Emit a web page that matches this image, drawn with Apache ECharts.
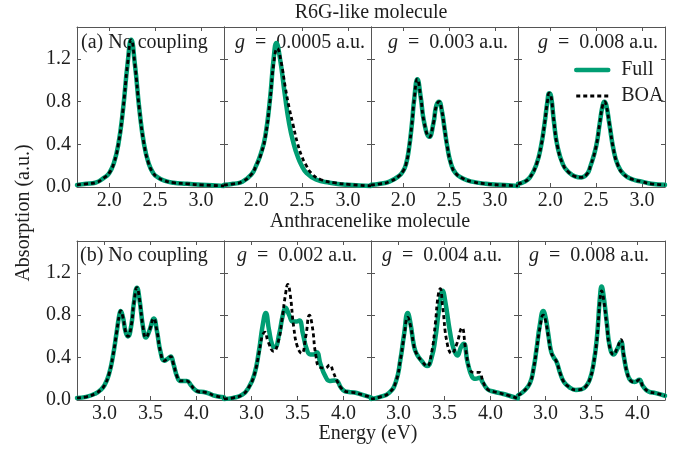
<!DOCTYPE html>
<html><head><meta charset="utf-8">
<script src="https://cdn.jsdelivr.net/npm/echarts@6/dist/echarts.min.js"></script>
<style>html,body{margin:0;padding:0;background:#fff}#c{width:683px;height:450px}</style>
</head><body><div id="c"></div>
<script>
// ---------- Data ----------
// Row (a): R6G-like molecule
const aTicks = [2.0, 2.5, 3.0];
const bTicks = [3.0, 3.5, 4.0];
const yTicks = [0, 0.4, 0.8, 1.2];

const aNcE = [1.65,1.75,1.85,1.95,2.0,2.05,2.1,2.15,2.2,2.24,2.28,2.33,2.38,2.43,2.48,2.53,2.6,2.7,2.85,3.0,3.25];
const aNcFull = [0.02,0.03,0.04,0.09,0.13,0.22,0.4,0.72,1.15,1.38,1.15,0.72,0.4,0.22,0.13,0.09,0.06,0.04,0.03,0.02,0.01];
const aNcBoa  = [0.02,0.03,0.04,0.09,0.13,0.22,0.4,0.72,1.15,1.38,1.15,0.72,0.4,0.22,0.13,0.09,0.06,0.04,0.03,0.02,0.01];

const aG1E = [1.65,1.75,1.85,1.95,2.0,2.05,2.1,2.15,2.19,2.22,2.26,2.31,2.36,2.41,2.45,2.49,2.55,2.65,2.8,3.0,3.25];
const aG1Full = [0.02,0.03,0.05,0.12,0.2,0.31,0.48,0.82,1.2,1.35,1.2,0.88,0.59,0.4,0.29,0.21,0.13,0.07,0.04,0.02,0.01];
const aG1BoaE = [1.65,1.75,1.85,1.95,2.0,2.05,2.1,2.15,2.19,2.23,2.27,2.32,2.36,2.4,2.45,2.5,2.54,2.6,2.7,2.85,3.0,3.25];
const aG1Boa  = [0.02,0.03,0.05,0.12,0.2,0.3,0.47,0.8,1.15,1.3,1.18,0.92,0.74,0.59,0.41,0.28,0.21,0.13,0.07,0.04,0.025,0.01];

const aG2E = [1.65,1.75,1.85,1.95,2.0,2.03,2.06,2.095,2.12,2.155,2.19,2.23,2.285,2.33,2.36,2.39,2.42,2.45,2.48,2.52,2.57,2.65,2.75,2.9,3.05,3.25];
const aG2Full = [0.02,0.03,0.05,0.1,0.15,0.21,0.34,0.59,0.82,1.01,0.85,0.6,0.47,0.6,0.76,0.8,0.72,0.55,0.38,0.22,0.13,0.08,0.05,0.03,0.02,0.01];
const aG2Boa  = [0.02,0.03,0.05,0.1,0.15,0.21,0.34,0.59,0.82,1.01,0.85,0.6,0.47,0.6,0.76,0.8,0.72,0.55,0.38,0.22,0.13,0.08,0.05,0.03,0.02,0.01];

const aG3E = [1.65,1.72,1.78,1.85,1.9,1.94,1.97,1.99,2.01,2.04,2.08,2.14,2.2,2.27,2.34,2.4,2.44,2.5,2.54,2.57,2.59,2.61,2.645,2.69,2.735,2.8,2.9,3.0,3.1,3.25];
const aG3Full = [0.03,0.05,0.09,0.21,0.38,0.6,0.8,0.88,0.85,0.62,0.38,0.21,0.14,0.1,0.09,0.12,0.2,0.38,0.6,0.76,0.8,0.77,0.59,0.35,0.21,0.12,0.07,0.05,0.03,0.02];
const aG3Boa  = [0.03,0.05,0.09,0.21,0.38,0.6,0.8,0.88,0.85,0.62,0.38,0.21,0.14,0.1,0.09,0.12,0.2,0.38,0.6,0.76,0.8,0.77,0.59,0.35,0.21,0.12,0.07,0.05,0.03,0.02];

// Row (b): Anthracenelike molecule
const bNcE = [2.7,2.8,2.9,2.95,3.0,3.05,3.09,3.13,3.16,3.175,3.2,3.23,3.255,3.29,3.32,3.353,3.38,3.42,3.45,3.49,3.535,3.57,3.61,3.65,3.69,3.72,3.75,3.79,3.825,3.86,3.895,3.94,3.98,4.02,4.08,4.14,4.2,4.3];
const bNcFull = [0.02,0.03,0.06,0.09,0.14,0.25,0.41,0.63,0.8,0.84,0.78,0.64,0.6,0.7,0.92,1.06,0.95,0.68,0.59,0.66,0.77,0.65,0.45,0.37,0.39,0.41,0.34,0.22,0.18,0.18,0.18,0.14,0.1,0.08,0.075,0.06,0.04,0.025];
const bNcBoa  = [0.02,0.03,0.06,0.09,0.14,0.25,0.41,0.63,0.8,0.84,0.78,0.64,0.6,0.7,0.92,1.06,0.95,0.68,0.59,0.66,0.77,0.65,0.45,0.37,0.39,0.41,0.34,0.22,0.18,0.18,0.18,0.14,0.1,0.08,0.075,0.06,0.04,0.025];

const bG1E = [2.7,2.8,2.9,2.97,3.03,3.08,3.12,3.155,3.19,3.225,3.255,3.3,3.34,3.37,3.41,3.45,3.49,3.52,3.56,3.6,3.64,3.68,3.71,3.75,3.8,3.85,3.9,3.93,3.97,4.01,4.06,4.12,4.2,4.3];
const bG1Full = [0.01,0.02,0.05,0.12,0.24,0.46,0.7,0.82,0.66,0.52,0.5,0.62,0.8,0.87,0.8,0.74,0.74,0.75,0.62,0.48,0.43,0.43,0.45,0.34,0.23,0.18,0.185,0.18,0.12,0.085,0.075,0.07,0.05,0.025];
const bG1BoaE = [2.7,2.8,2.9,2.97,3.03,3.08,3.115,3.145,3.18,3.24,3.29,3.33,3.37,3.395,3.42,3.46,3.5,3.545,3.59,3.63,3.66,3.7,3.74,3.8,3.85,3.89,3.93,3.97,4.01,4.06,4.12,4.2,4.3];
const bG1Boa  = [0.01,0.02,0.05,0.12,0.24,0.44,0.6,0.64,0.55,0.46,0.55,0.75,1.0,1.09,1.0,0.68,0.5,0.44,0.6,0.8,0.7,0.42,0.31,0.3,0.33,0.26,0.18,0.12,0.085,0.075,0.07,0.05,0.025];

const bG2E = [2.7,2.8,2.9,2.97,3.02,3.06,3.1,3.13,3.17,3.2,3.25,3.31,3.36,3.4,3.44,3.48,3.51,3.56,3.6,3.64,3.68,3.71,3.75,3.8,3.84,3.88,3.92,3.97,4.03,4.1,4.18,4.3];
const bG2Full = [0.01,0.03,0.07,0.17,0.38,0.62,0.82,0.72,0.5,0.43,0.37,0.32,0.4,0.58,0.85,1.03,0.92,0.64,0.48,0.42,0.5,0.53,0.36,0.22,0.2,0.21,0.16,0.1,0.08,0.065,0.047,0.015];
const bG2BoaE = [2.7,2.8,2.9,2.97,3.02,3.06,3.1,3.13,3.17,3.2,3.25,3.31,3.36,3.4,3.43,3.453,3.48,3.53,3.58,3.63,3.69,3.73,3.78,3.83,3.88,3.92,3.97,4.03,4.1,4.18,4.3];
const bG2Boa  = [0.01,0.03,0.07,0.17,0.38,0.6,0.78,0.7,0.5,0.43,0.37,0.32,0.45,0.72,0.98,1.05,0.88,0.53,0.44,0.52,0.68,0.48,0.28,0.26,0.26,0.17,0.1,0.08,0.065,0.047,0.015];

const bG3E = [2.7,2.76,2.83,2.87,2.9,2.94,2.975,3.0,3.03,3.06,3.09,3.12,3.16,3.2,3.26,3.33,3.39,3.44,3.48,3.52,3.56,3.59,3.61,3.635,3.665,3.7,3.74,3.78,3.82,3.85,3.89,3.93,3.97,4.02,4.06,4.12,4.2,4.3];
const bG3Full = [0.045,0.08,0.16,0.3,0.47,0.72,0.84,0.78,0.62,0.46,0.4,0.36,0.25,0.17,0.12,0.095,0.1,0.13,0.19,0.33,0.6,0.95,1.07,0.96,0.74,0.5,0.43,0.48,0.55,0.42,0.25,0.18,0.17,0.19,0.13,0.08,0.065,0.04];
const bG3Boa  = [0.045,0.08,0.16,0.3,0.46,0.69,0.8,0.75,0.6,0.45,0.4,0.36,0.25,0.17,0.12,0.095,0.1,0.13,0.19,0.33,0.58,0.92,1.03,0.93,0.72,0.49,0.43,0.49,0.57,0.43,0.25,0.18,0.17,0.19,0.13,0.08,0.065,0.04];

const panelLabels = ['(a) No coupling','{i|g}{n|\u2002=\u20020.0005 a.u.}','{i|g}{n|\u2002=\u20020.003 a.u.}','{i|g}{n|\u2002=\u20020.008 a.u.}',
                     '(b) No coupling','{i|g}{n|\u2002=\u20020.002 a.u.}','{i|g}{n|\u2002=\u20020.004 a.u.}','{i|g}{n|\u2002=\u20020.008 a.u.}'];
const rowTitles = ['R6G-like molecule','Anthracenelike molecule'];
const xTitle = 'Energy (eV)';
const yTitle = 'Absorption (a.u.)';
const seriesNames = ['Full','BOA'];

// ---------- Build chart ----------
const FONT = 'Liberation Serif';
const TXT = '#1e1e1e';
const GREEN = '#009E73';
const AX = '#555';
const zip = (e, v) => e.map((x, i) => [x, v[i]]);

const panels = [
  {fe:aNcE, f:aNcFull, be:aNcE, b:aNcBoa},
  {fe:aG1E, f:aG1Full, be:aG1BoaE, b:aG1Boa},
  {fe:aG2E, f:aG2Full, be:aG2E, b:aG2Boa},
  {fe:aG3E, f:aG3Full, be:aG3E, b:aG3Boa},
  {fe:bNcE, f:bNcFull, be:bNcE, b:bNcBoa},
  {fe:bG1E, f:bG1Full, be:bG1BoaE, b:bG1Boa},
  {fe:bG2E, f:bG2Full, be:bG2BoaE, b:bG2Boa},
  {fe:bG3E, f:bG3Full, be:bG3E, b:bG3Boa}
];
const rowX = [[1.65, 3.25], [2.7, 4.3]];
const rowTick = [aTicks, bTicks];
const gridTop = [27, 241], gridH = [160, 159];
const colLeft = [77, 224, 371, 518], colW = 147;

const grid = [], xAxis = [], yAxis = [], series = [];
const fmt = v => Number(v).toFixed(1);
panels.forEach((p, i) => {
  const r = Math.floor(i / 4), c = i % 4;
  grid.push({left: colLeft[c], top: gridTop[r], width: colW, height: gridH[r], containLabel: false});
  const common = {type: 'value', gridIndex: i, min: rowX[r][0], max: rowX[r][1],
    splitLine: {show: false}, axisLine: {show: true, onZero: false, lineStyle: {color: AX, width: 1}}};
  xAxis.push(Object.assign({}, common, {position: 'bottom',
    axisTick: {show: true, inside: true, length: 4, customValues: rowTick[r], lineStyle: {color: AX}},
    axisLabel: {show: true, customValues: rowTick[r], formatter: fmt, margin: 4, fontFamily: FONT, fontSize: 20, color: TXT}}));
  xAxis.push(Object.assign({}, common, {position: 'top',
    axisTick: {show: true, inside: true, length: 4, customValues: rowTick[r], lineStyle: {color: AX}},
    axisLabel: {show: false}}));
  const yc = {type: 'value', gridIndex: i, min: 0, max: 1.5, splitLine: {show: false},
    axisLine: {show: true, onZero: false, lineStyle: {color: AX, width: 1}}};
  yAxis.push(Object.assign({}, yc, {position: 'left',
    axisTick: {show: true, inside: true, length: 4, customValues: yTicks, lineStyle: {color: AX}},
    axisLabel: {show: c === 0, customValues: yTicks, formatter: fmt, margin: 6, fontFamily: FONT, fontSize: 20, color: TXT}}));
  yAxis.push(Object.assign({}, yc, {position: 'right',
    axisTick: {show: true, inside: true, length: 4, customValues: yTicks, lineStyle: {color: AX}},
    axisLabel: {show: false}}));
  series.push({name: seriesNames[0], type: 'line', xAxisIndex: 2 * i, yAxisIndex: 2 * i,
    data: zip(p.fe, p.f), symbol: 'none', showSymbol: false, smooth: 0.5,
    lineStyle: {color: GREEN, width: 4.5, join: 'round', cap: 'round'}, itemStyle: {color: GREEN}, z: 2, silent: true});
  series.push({name: seriesNames[1], type: 'line', xAxisIndex: 2 * i, yAxisIndex: 2 * i,
    data: zip(p.be, p.b), symbol: 'none', showSymbol: false, smooth: 0.5,
    lineStyle: {color: '#000', width: 2.8, type: [4, 3]}, itemStyle: {color: '#000'}, z: 3, silent: true});
});

const rich = {i: {fontFamily: FONT, fontSize: 20, fontStyle: 'italic', fill: TXT, color: TXT},
              n: {fontFamily: FONT, fontSize: 20, fill: TXT, color: TXT}};
const labelPos = [
  {x: 81, y: 43, a: 'left'}, {x: 300, y: 43, a: 'center'}, {x: 448, y: 43, a: 'center'}, {x: 598, y: 43, a: 'center'},
  {x: 80, y: 256, a: 'left'}, {x: 297, y: 256, a: 'center'}, {x: 442, y: 256, a: 'center'}, {x: 589, y: 256, a: 'center'}
];
const graphic = [];
panelLabels.forEach((t, i) => {
  graphic.push({type: 'text', x: labelPos[i].x, y: labelPos[i].y, silent: true,
    style: {text: t, font: '20px "Liberation Serif"', fill: TXT, textAlign: labelPos[i].a, textVerticalAlign: 'middle', rich: rich}});
});
graphic.push({type: 'text', x: 371, y: 13, style: {text: rowTitles[0], font: '20px "Liberation Serif"', fill: TXT, textAlign: 'center', textVerticalAlign: 'middle'}});
graphic.push({type: 'text', x: 370, y: 222, style: {text: rowTitles[1], font: '20px "Liberation Serif"', fill: TXT, textAlign: 'center', textVerticalAlign: 'middle'}});
graphic.push({type: 'text', x: 368, y: 434, style: {text: xTitle, font: '20px "Liberation Serif"', fill: TXT, textAlign: 'center', textVerticalAlign: 'middle'}});
graphic.push({type: 'text', x: 24, y: 213, rotation: Math.PI / 2, style: {text: yTitle, font: '20px "Liberation Serif"', fill: TXT, textAlign: 'center', textVerticalAlign: 'middle'}});

const chart = echarts.init(document.getElementById('c'), null, {renderer: 'canvas'});
chart.setOption({
  animation: false,
  backgroundColor: '#fff',
  grid, xAxis, yAxis, series, graphic,
  legend: {data: seriesNames, orient: 'vertical', left: 569, top: 55,
    itemWidth: 32, itemHeight: 14, itemGap: 6, selectedMode: false,
    itemStyle: {opacity: 0, color: 'rgba(0,0,0,0)', borderWidth: 0},
    lineStyle: {width: 'inherit', type: 'inherit', color: 'inherit'},
    textStyle: {fontFamily: FONT, fontSize: 20, color: TXT, padding: [0, 0, 0, 8]}}
});
</script></body></html>
